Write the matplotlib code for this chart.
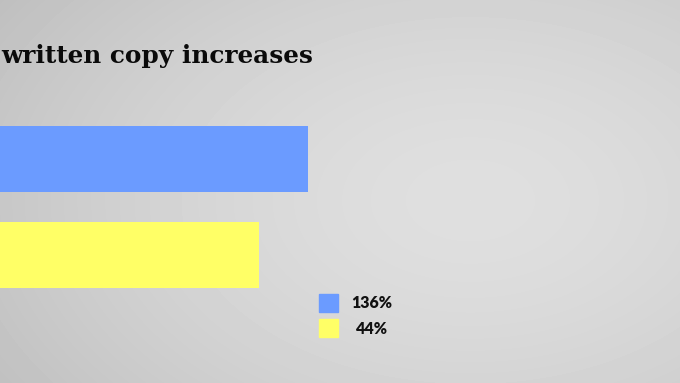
import numpy as np
import matplotlib
matplotlib.use('Agg')
import matplotlib.pyplot as plt
from matplotlib.patches import Rectangle

## data
title = 'written copy increases'
labels = ['136%', '44%']
bar_len = [308, 259]          # bar lengths as seen (picture units)
colors = ['#6b9bff', '#ffff66']

W, H = 680, 383
fig = plt.figure(figsize=(6.8, 3.83), dpi=100)
ax = fig.add_axes([0, 0, 1, 1])
ax.set_xlim(0, W)
ax.set_ylim(H, 0)
ax.axis('off')

## radial grey background
yy, xx = np.mgrid[0:H, 0:W]
r = np.sqrt(((xx - 470) / 520.0) ** 2 + ((yy - 200) / 330.0) ** 2)
shade = 0.875 - 0.11 * np.clip(r, 0, 1.3) ** 1.6
ax.imshow(shade, cmap='gray', vmin=0, vmax=1, extent=[0, W, H, 0],
          aspect='auto', zorder=0, interpolation='bilinear')

## bars
ypos = [159, 255]
ax.barh(ypos, bar_len, height=66, left=0, color=colors, zorder=2)

## title
ax.text(1, 63, title, fontsize=17.8, fontweight='bold', family='DejaVu Serif',
        color='#0a0a0a', ha='left', va='baseline', zorder=3)

## legend
for i, (lab, c) in enumerate(zip(labels, colors)):
    y0 = 294 + i * 25
    ax.add_patch(Rectangle((319, y0), 19, 18, color=c, zorder=3))
    ax.text(372, y0 + 9.5, lab, fontsize=11.5, fontweight='heavy', family='Lato',
            color='#111111', ha='center', va='center', zorder=3)

fig.savefig('out.png', dpi=100)
